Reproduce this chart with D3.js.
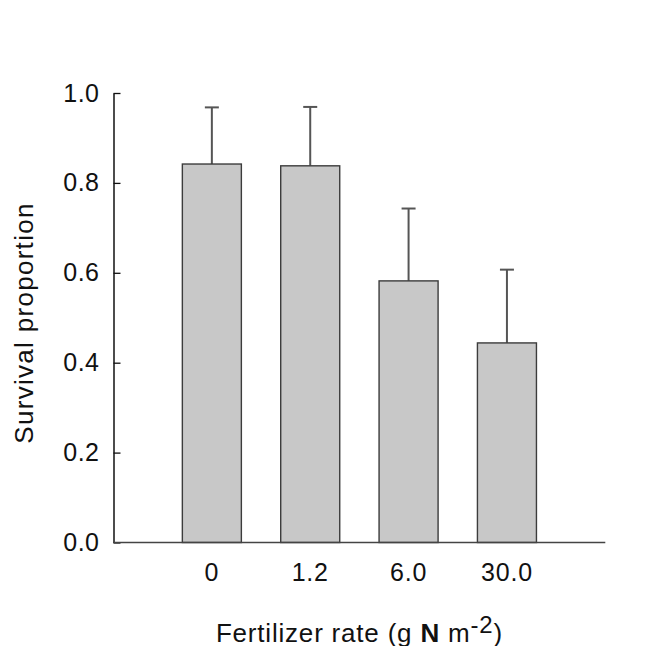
<!DOCTYPE html>
<html>
<head>
<meta charset="utf-8">
<script src="https://cdn.jsdelivr.net/npm/d3@7/dist/d3.min.js"></script>
<style>
  html, body { margin: 0; padding: 0; background: #fff; }
  svg { display: block; font-family: "Liberation Sans", Arial, sans-serif; }
</style>
</head>
<body>
<svg id="chart" width="669" height="646"></svg>
<script>
// Survival proportion by fertilizer rate, mean with upper error bar
const categories = ["0", "1.2", "6.0", "30.0"];
const survival = [0.842, 0.838, 0.582, 0.444];
const errorUp = [0.126, 0.131, 0.161, 0.163];
const yTicks = [0, 0.2, 0.4, 0.6, 0.8, 1.0];

const svg = d3.select("#chart");
const plotLeft = 113.5, plotRight = 605.3, plotTop = 93, plotBottom = 542.5;

const x = d3.scaleBand()
  .domain(categories)
  .range([plotLeft, plotRight])
  .paddingInner(0.4)
  .paddingOuter(0.7);

const y = d3.scaleLinear().domain([0, 1]).range([plotBottom, plotTop]);

const rows = categories.map((c, i) => ({ c, v: survival[i], e: errorUp[i] }));
const cx = d => x(d.c) + x.bandwidth() / 2;

// error bars (drawn first so the bar outline sits on top)
const eb = svg.append("g");
eb.selectAll("line.stem").data(rows).join("line").attr("class", "stem")
  .attr("x1", cx).attr("x2", cx)
  .attr("y1", d => y(d.v))
  .attr("y2", d => y(d.v + d.e))
  .attr("stroke", "#555").attr("stroke-width", 2);
eb.selectAll("line.cap").data(rows).join("line").attr("class", "cap")
  .attr("x1", d => cx(d) - 7)
  .attr("x2", d => cx(d) + 7)
  .attr("y1", d => y(d.v + d.e))
  .attr("y2", d => y(d.v + d.e))
  .attr("stroke", "#555").attr("stroke-width", 2);

// bars
svg.append("g").selectAll("rect").data(rows).join("rect")
  .attr("x", d => x(d.c))
  .attr("y", d => y(d.v))
  .attr("width", x.bandwidth())
  .attr("height", d => y(0) - y(d.v))
  .attr("fill", "#c8c8c8")
  .attr("stroke", "#3c3c3c")
  .attr("stroke-width", 1.4);

// y axis with inward ticks
const yAxis = svg.append("g")
  .attr("transform", `translate(${plotLeft},0)`)
  .call(d3.axisLeft(y).tickValues(yTicks).tickFormat(d3.format(".1f"))
    .tickSizeInner(-7).tickSizeOuter(0).tickPadding(14));
yAxis.select(".domain").attr("stroke", "#111").attr("stroke-width", 1.5);
yAxis.selectAll(".tick line").attr("stroke", "#111").attr("stroke-width", 1.3);
yAxis.selectAll(".tick text")
  .attr("font-size", 25).attr("fill", "#111").attr("letter-spacing", 0.5)
  .attr("font-family", "Liberation Sans, Arial, sans-serif");

// x axis: baseline only, category labels under each bar
const xAxis = svg.append("g")
  .attr("transform", `translate(0,${plotBottom})`)
  .call(d3.axisBottom(x).tickSize(0).tickPadding(21));
xAxis.select(".domain").attr("stroke", "#444").attr("stroke-width", 1.5)
  .attr("d", `M${plotLeft},0H${plotRight}`);
xAxis.selectAll(".tick text")
  .attr("font-size", 25).attr("fill", "#111").attr("letter-spacing", 0.8)
  .attr("font-family", "Liberation Sans, Arial, sans-serif");

// axis titles
svg.append("text")
  .attr("transform", "translate(33,323) rotate(-90)")
  .attr("text-anchor", "middle")
  .attr("font-size", 26).attr("letter-spacing", 1.3).attr("fill", "#111")
  .text("Survival proportion");

const xt = svg.append("text")
  .attr("x", (plotLeft + plotRight) / 2).attr("y", 642)
  .attr("text-anchor", "middle")
  .attr("font-size", 26).attr("letter-spacing", 0.8).attr("fill", "#111");
xt.append("tspan").text("Fertilizer rate (g ");
xt.append("tspan").attr("font-weight", "bold").text("N");
xt.append("tspan").text(" m");
xt.append("tspan").attr("dy", -9).attr("font-size", 24).text("-2");
xt.append("tspan").attr("dy", 9).text(")");
</script>
</body>
</html>
